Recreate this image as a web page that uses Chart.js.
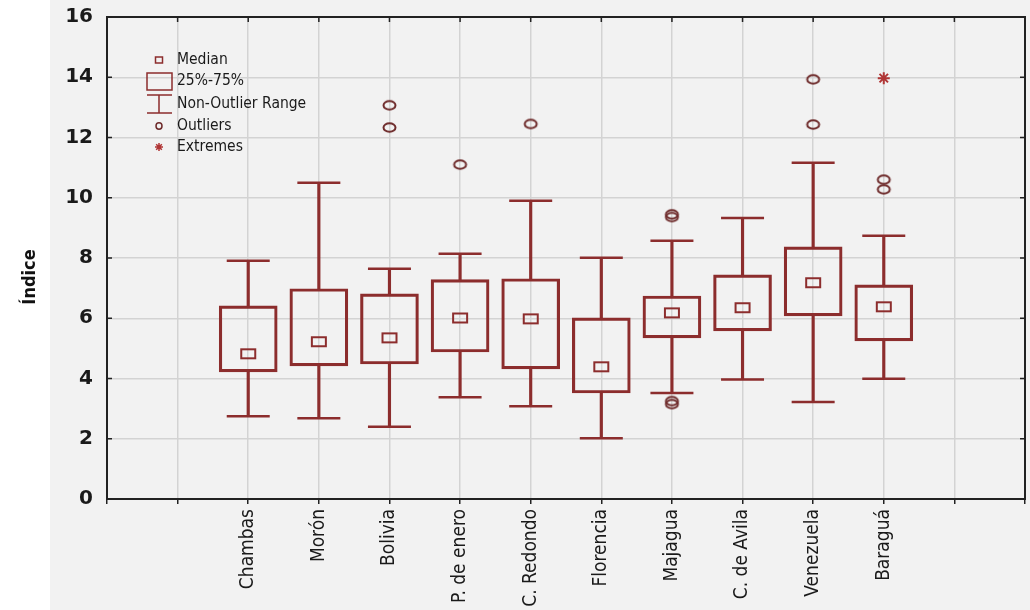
<!DOCTYPE html>
<html>
<head>
<meta charset="utf-8">
<script src="https://cdn.jsdelivr.net/npm/chart.js@4/dist/chart.umd.min.js"></script>
<style>
  html, body { margin: 0; padding: 0; background: #ffffff; }
  #wrap { width: 1030px; height: 610px; position: relative; }
</style>
</head>
<body>
<div id="wrap"><canvas id="c" width="1030" height="610"></canvas></div>
<script>
// Box-plot summary per municipality
const categories = ['Chambas', 'Morón', 'Bolivia', 'P. de enero', 'C. Redondo',
                    'Florencia', 'Majagua', 'C. de Avila', 'Venezuela', 'Baraguá'];
const medians      = [4.82, 5.22, 5.35, 6.01, 5.98, 4.39, 6.18, 6.35, 7.18, 6.38];
const q1Values     = [4.22, 4.42, 4.48, 4.88, 4.32, 3.52, 5.35, 5.58, 6.08, 5.25];
const q3Values     = [6.41, 6.98, 6.81, 7.28, 7.31, 6.01, 6.74, 7.44, 8.37, 7.11];
const lowerWhisker = [2.75, 2.68, 2.40, 3.38, 3.08, 2.02, 3.52, 3.97, 3.22, 3.99];
const upperWhisker = [7.91, 10.50, 7.64, 8.14, 9.90, 8.01, 8.57, 9.33, 11.16, 8.74];
const outliers = [
  ['Bolivia', 13.07], ['Bolivia', 12.33],
  ['P. de enero', 11.10],
  ['C. Redondo', 12.45],
  ['Majagua', 9.45], ['Majagua', 9.36], ['Majagua', 3.25], ['Majagua', 3.15],
  ['Venezuela', 13.93], ['Venezuela', 12.43],
  ['Baraguá', 10.60], ['Baraguá', 10.28]
];
const extremes = [['Baraguá', 13.97]];
const yTicks = [0, 2, 4, 6, 8, 10, 12, 14, 16];

// Two empty slots on each side of the categories
const slotLabels = ['', ''].concat(categories, ['', '']);
const pad = arr => [null, null].concat(arr, [null, null]);

const RED = '#8c2d2d';
const CIRCLE_COL = '#6e2b2b';
const NARROW = "'Liberation Sans Narrow', 'DejaVu Sans Condensed', 'Liberation Sans', sans-serif";

// Point glyphs
function makeMedianGlyph() {
  const cv = document.createElement('canvas');
  cv.width = 18; cv.height = 13;
  const g = cv.getContext('2d');
  g.strokeStyle = RED; g.lineWidth = 2;
  g.strokeRect(2, 2, 14, 9);
  return cv;
}
function makeOutlierGlyph() {
  const cv = document.createElement('canvas');
  cv.width = 17; cv.height = 13;
  const g = cv.getContext('2d');
  g.strokeStyle = CIRCLE_COL; g.lineWidth = 2;
  g.beginPath();
  g.ellipse(8.5, 6.5, 6, 4.2, 0, 0, Math.PI * 2);
  g.stroke();
  return cv;
}
const medianGlyph = makeMedianGlyph();
const outlierGlyph = makeOutlierGlyph();

const pointsOf = (cats, vals) => cats.map((c, i) => ({ x: c, y: vals[i] }));

const noEdgePadding = scale => {
  scale.paddingLeft = 0; scale.paddingRight = 0;
  scale.paddingTop = 0; scale.paddingBottom = 0;
};

const bgPlugin = {
  id: 'panel',
  beforeDraw(chart) {
    const ctx = chart.ctx;
    ctx.save();
    ctx.fillStyle = '#ffffff';
    ctx.fillRect(0, 0, chart.width, chart.height);
    ctx.fillStyle = '#f2f2f2';
    ctx.fillRect(50, 0, chart.width - 50, chart.height);
    ctx.restore();
  }
};

const framePlugin = {
  id: 'frame',
  afterDraw(chart) {
    const { ctx, chartArea: a, scales } = chart;
    ctx.save();
    // frame
    ctx.strokeStyle = '#222';
    ctx.lineWidth = 2;
    ctx.strokeRect(a.left, a.top, a.right - a.left, a.bottom - a.top);
    // inward tick marks on left/right and top
    ctx.lineWidth = 1.5;
    ctx.beginPath();
    yTicks.forEach(v => {
      const y = scales.y.getPixelForValue(v);
      ctx.moveTo(a.left, y); ctx.lineTo(a.left + 5, y);
      ctx.moveTo(a.right, y); ctx.lineTo(a.right - 5, y);
    });
    for (let i = 1; i < slotLabels.length - 1; i++) {
      const x = scales.x.getPixelForValue(i);
      ctx.moveTo(x, a.top); ctx.lineTo(x, a.top + 5);
    }
    ctx.stroke();

    // y-axis title
    ctx.fillStyle = '#111';
    ctx.font = "bold 18px " + NARROW;
    ctx.translate(30, 277);
    ctx.rotate(-Math.PI / 2);
    ctx.textAlign = 'center';
    ctx.textBaseline = 'middle';
    ctx.fillText('Índice', 0, 0);
    ctx.restore();

    // key
    ctx.save();
    const sx = 159, tx = 177;
    ctx.strokeStyle = RED;
    ctx.lineWidth = 1.5;
    ctx.strokeRect(sx - 3.5, 57, 7, 6);
    ctx.strokeRect(147, 73, 25, 17);
    ctx.beginPath();
    ctx.moveTo(147, 95); ctx.lineTo(172, 95);
    ctx.moveTo(sx, 95); ctx.lineTo(sx, 113);
    ctx.moveTo(147, 113); ctx.lineTo(172, 113);
    ctx.stroke();
    ctx.strokeStyle = CIRCLE_COL;
    ctx.beginPath();
    ctx.ellipse(sx, 126, 3, 3.2, 0, 0, Math.PI * 2);
    ctx.stroke();
    ctx.strokeStyle = '#b03535';
    ctx.beginPath();
    for (let k = 0; k < 4; k++) {
      const ang = k * Math.PI / 4;
      ctx.moveTo(sx - 4 * Math.cos(ang), 147 - 4 * Math.sin(ang));
      ctx.lineTo(sx + 4 * Math.cos(ang), 147 + 4 * Math.sin(ang));
    }
    ctx.stroke();
    ctx.fillStyle = '#1a1a1a';
    ctx.font = "15.5px " + NARROW;
    ctx.textBaseline = 'middle';
    ctx.fillText('Median', tx, 60);
    ctx.fillText('25%-75%', tx, 81);
    ctx.fillText('Non-Outlier Range', tx, 104);
    ctx.fillText('Outliers', tx, 126);
    ctx.fillText('Extremes', tx, 147);
    ctx.restore();
  }
};

new Chart(document.getElementById('c'), {
  type: 'bar',
  data: {
    labels: slotLabels,
    datasets: [
      {
        label: 'Median',
        type: 'line',
        showLine: false,
        data: pad(medians),
        pointStyle: medianGlyph,
        pointRadius: 5,
        order: 0
      },
      {
        label: 'Outliers',
        type: 'line',
        showLine: false,
        data: pointsOf(outliers.map(o => o[0]), outliers.map(o => o[1])),
        pointStyle: outlierGlyph,
        pointRadius: 5,
        order: 0
      },
      {
        label: 'Extremes',
        type: 'line',
        showLine: false,
        data: pointsOf(extremes.map(o => o[0]), extremes.map(o => o[1])),
        pointStyle: 'star',
        pointRadius: 6,
        pointBorderColor: '#b03535',
        pointBorderWidth: 2,
        order: 0
      },
      {
        label: 'Upper cap',
        type: 'line',
        showLine: false,
        data: pad(upperWhisker),
        pointStyle: 'line',
        pointRadius: 21.5,
        pointBorderColor: RED,
        pointBorderWidth: 2.5,
        order: 1
      },
      {
        label: 'Lower cap',
        type: 'line',
        showLine: false,
        data: pad(lowerWhisker),
        pointStyle: 'line',
        pointRadius: 21.5,
        pointBorderColor: RED,
        pointBorderWidth: 2.5,
        order: 1
      },
      {
        label: '25%-75%',
        data: pad(categories.map((c, i) => [q1Values[i], q3Values[i]])),
        backgroundColor: 'rgba(0,0,0,0)',
        borderColor: RED,
        borderWidth: 2.5,
        borderSkipped: false,
        barThickness: 58,
        grouped: false,
        order: 2
      },
      {
        label: 'Upper whisker',
        data: pad(categories.map((c, i) => [q3Values[i], upperWhisker[i]])),
        backgroundColor: RED,
        borderWidth: 0,
        barThickness: 2.5,
        grouped: false,
        order: 3
      },
      {
        label: 'Lower whisker',
        data: pad(categories.map((c, i) => [lowerWhisker[i], q1Values[i]])),
        backgroundColor: RED,
        borderWidth: 0,
        barThickness: 2.5,
        grouped: false,
        order: 3
      }
    ]
  },
  options: {
    responsive: false,
    animation: false,
    events: [],
    layout: { autoPadding: false, padding: { top: 17, right: 5, left: 0, bottom: 0 } },
    plugins: {
      legend: { display: false },
      tooltip: { enabled: false }
    },
    scales: {
      x: {
        type: 'category',
        offset: false,
        grid: {
          offset: false,
          color: '#d3d3d3',
          lineWidth: 1.5,
          drawTicks: true,
          tickLength: 5,
          tickColor: '#222',
          tickWidth: 1.5
        },
        border: { display: true, color: '#222', width: 2 },
        ticks: {
          autoSkip: false,
          minRotation: 90,
          maxRotation: 90,
          padding: 5,
          color: '#1a1a1a',
          font: { family: NARROW, size: 19 }
        },
        afterFit(scale) { scale.height = 111; noEdgePadding(scale); }
      },
      y: {
        min: 0,
        max: 16,
        grid: {
          color: '#d3d3d3',
          lineWidth: 1.5,
          drawTicks: false
        },
        border: { display: true, color: '#222', width: 2 },
        ticks: {
          stepSize: 2,
          padding: 14,
          color: '#1a1a1a',
          font: { family: "'DejaVu Sans', sans-serif", size: 20, weight: 'bold' }
        },
        afterFit(scale) { scale.width = 107; noEdgePadding(scale); }
      }
    }
  },
  plugins: [bgPlugin, framePlugin]
});
</script>
</body>
</html>
